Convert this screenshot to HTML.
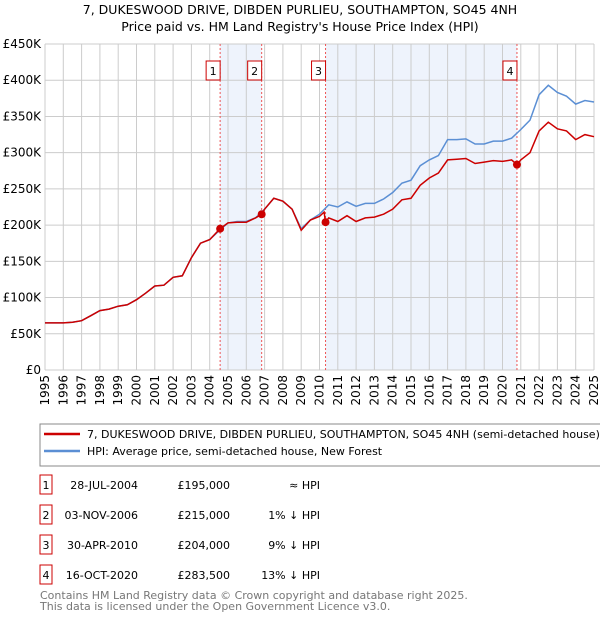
<!DOCTYPE html>
<html><head><meta charset="utf-8"><style>
body{margin:0;background:#fff;font-family:"Liberation Sans","DejaVu Sans",sans-serif;}
svg text{font-family:"DejaVu Sans","Liberation Sans",sans-serif;}
</style></head><body>
<svg id="c" width="600" height="620" xmlns="http://www.w3.org/2000/svg">
<text x="300" y="14" font-size="12.5" text-anchor="middle">7, DUKESWOOD DRIVE, DIBDEN PURLIEU, SOUTHAMPTON, SO45 4NH</text>
<text x="300" y="31" font-size="12.5" text-anchor="middle">Price paid vs. HM Land Registry's House Price Index (HPI)</text>
<g id="grid"></g><g id="marks"></g>
<rect x="40" y="424" width="562" height="42" fill="#fff" stroke="#888"/>
<line x1="44" y1="434" x2="80" y2="434" stroke="#cc0000" stroke-width="2.5"/>
<text x="87" y="438" font-size="11">7, DUKESWOOD DRIVE, DIBDEN PURLIEU, SOUTHAMPTON, SO45 4NH (semi-detached house)</text>
<line x1="44" y1="451" x2="80" y2="451" stroke="#5b8fd4" stroke-width="2.5"/>
<text x="87" y="455" font-size="11">HPI: Average price, semi-detached house, New Forest</text>
<g id="tbl" font-size="11"></g>
<text x="40" y="599" font-size="11" fill="#777">Contains HM Land Registry data © Crown copyright and database right 2025.</text>
<text x="40" y="610" font-size="11" fill="#777">This data is licensed under the Open Government Licence v3.0.</text>
</svg>
<script>
const hpiYears=[1995,1995.5,1996,1996.5,1997,1997.5,1998,1998.5,1999,1999.5,2000,2000.5,2001,2001.5,2002,2002.5,2003,2003.5,2004,2004.5,2005,2005.5,2006,2006.5,2007,2007.5,2008,2008.5,2009,2009.5,2010,2010.5,2011,2011.5,2012,2012.5,2013,2013.5,2014,2014.5,2015,2015.5,2016,2016.5,2017,2017.5,2018,2018.5,2019,2019.5,2020,2020.5,2021,2021.5,2022,2022.5,2023,2023.5,2024,2024.5,2025];
const hpiValues=[65,65,65,66,68,75,82,84,88,90,97,106,116,117,128,130,155,175,180,192,203,205,205,210,222,237,233,222,195,207,215,228,225,232,226,230,230,236,245,258,262,282,290,296,318,318,319,312,312,316,316,320,332,345,380,393,383,378,367,372,370];
const redYears=[1995,1995.5,1996,1996.5,1997,1997.5,1998,1998.5,1999,1999.5,2000,2000.5,2001,2001.5,2002,2002.5,2003,2003.5,2004,2004.57,2005,2005.5,2006,2006.5,2006.84,2007,2007.5,2008,2008.5,2009,2009.5,2010,2010.25,2010.33,2010.5,2011,2011.5,2012,2012.5,2013,2013.5,2014,2014.5,2015,2015.5,2016,2016.5,2017,2017.5,2018,2018.5,2019,2019.5,2020,2020.5,2020.79,2021,2021.5,2022,2022.5,2023,2023.5,2024,2024.5,2025];
const redValues=[65,65,65,66,68,75,82,84,88,90,97,106,116,117,128,130,155,175,180,195,203,204,204,210,215,222,237,233,222,193,207,212,218,204,210,205,213,205,210,211,215,222,235,237,255,265,272,290,291,292,285,287,289,288,290,283.5,290,300,330,342,333,330,318,325,322];
const saleYears=[2004.57,2006.84,2010.33,2020.79];
const saleValues=[195,215,204,283.5];
const saleLabels=["1","2","3","4"];
const saleDates=["28-JUL-2004","03-NOV-2006","30-APR-2010","16-OCT-2020"];
const salePrices=["£195,000","£215,000","£204,000","£283,500"];
const saleRel=["≈ HPI","1% ↓ HPI","9% ↓ HPI","13% ↓ HPI"];
const yTicks=[0,50,100,150,200,250,300,350,400,450];
const xTicks=[1995,1996,1997,1998,1999,2000,2001,2002,2003,2004,2005,2006,2007,2008,2009,2010,2011,2012,2013,2014,2015,2016,2017,2018,2019,2020,2021,2022,2023,2024,2025];
const X0=45,X1=594,Y0=370,Y1=44;
const sx=v=>X0+(v-1995)/30*(X1-X0);
const sy=v=>Y0-v/450*(Y0-Y1);
const NS="http://www.w3.org/2000/svg";
function mk(p,t,a){const e=document.createElementNS(NS,t);for(const k in a)e.setAttribute(k,a[k]);p.appendChild(e);return e;}
const g=document.getElementById('grid'),m=document.getElementById('marks');
for(let i=0;i<4;i+=2){const b=mk(g,'rect',{x:sx(saleYears[i]),y:Y1,width:sx(saleYears[i+1])-sx(saleYears[i]),height:Y0-Y1,fill:'#eef3fc'});

}
yTicks.forEach(v=>{mk(g,'line',{x1:X0,x2:X1,y1:sy(v),y2:sy(v),stroke:'#ccc'});
const t=mk(g,'text',{x:X0-4,y:sy(v)+4,'font-size':12,'text-anchor':'end'});t.textContent='£'+(v?v+'K':'0');

});
xTicks.forEach(v=>{mk(g,'line',{x1:sx(v),x2:sx(v),y1:Y1,y2:Y0,stroke:'#ccc'});
const t=mk(g,'text',{x:0,y:0,'font-size':12,'text-anchor':'end',transform:`translate(${(sx(v)+4).toFixed(1)},375) rotate(-90)`});t.textContent=v;

});
saleYears.forEach((y,i)=>{mk(m,'line',{x1:sx(y),x2:sx(y),y1:Y1,y2:Y0,stroke:'#e55','stroke-dasharray':'2,2'});
const b=mk(m,'rect',{x:sx(y)-14,y:61,width:14,height:19,fill:'#fff',stroke:'#cc0000'});


const t=mk(m,'text',{x:sx(y)-7,y:75,'font-size':11,'text-anchor':'middle'});t.textContent=saleLabels[i];});
const path=(xs,vs)=>xs.map((x,i)=>(i?'L':'M')+sx(x).toFixed(1)+','+sy(vs[i]).toFixed(1)).join('');
const h=mk(m,'path',{d:path(hpiYears,hpiValues),fill:'none',stroke:'#5b8fd4','stroke-width':1.5});


const r=mk(m,'path',{d:path(redYears,redValues),fill:'none',stroke:'#cc0000','stroke-width':1.5});


saleYears.forEach((y,i)=>{const c=mk(m,'circle',{cx:sx(y),cy:sy(saleValues[i]),r:4,fill:'#cc0000'});

});
const tb=document.getElementById('tbl');
saleLabels.forEach((l,i)=>{const y=483+i*30;
const b=mk(tb,'rect',{x:40,y:y-8,width:12,height:19,fill:'#fff',stroke:'#cc0000'});


const a=mk(tb,'text',{x:46,y:y+6,'text-anchor':'middle'});a.textContent=l;
const d=mk(tb,'text',{x:138,y:y+6,'text-anchor':'end'});d.textContent=saleDates[i];


const p=mk(tb,'text',{x:230,y:y+6,'text-anchor':'end'});p.textContent=salePrices[i];


const q=mk(tb,'text',{x:320,y:y+6,'text-anchor':'end'});q.textContent=saleRel[i];

});
</script>
</body></html>
